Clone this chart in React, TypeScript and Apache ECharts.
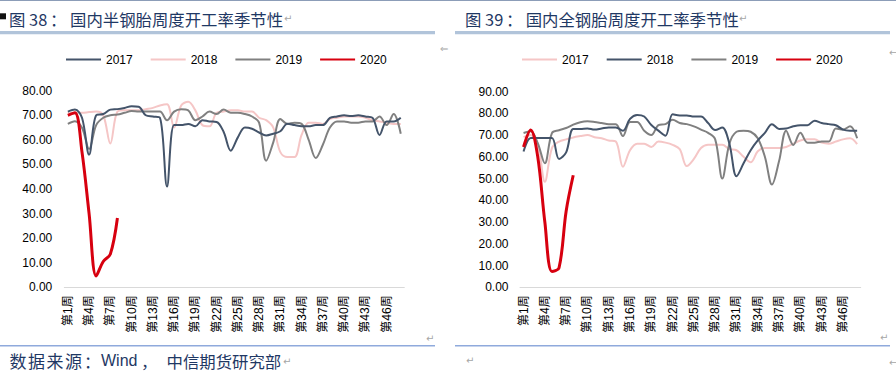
import React, { useEffect, useRef } from "react";
import * as echarts from "echarts";

const weeks: string[] = Array.from({ length: 48 }, (_, i) => `第${i + 1}周`);
const years = ["2017", "2018", "2019", "2020"];

// 国内半钢胎周度开工率
const semi2017 = [71.5, 72.3, 69, 54, 70, 70.5, 72.3, 72.5, 73, 73.7, 73.5, 70, 69.5, 69, 41, 66, 66, 66.5, 65.5, 68, 67.5, 67.3, 63.2, 55.6, 61, 65, 64.5, 63, 61.8, 62.5, 63.5, 66.6, 66, 65.5, 65.5, 66, 66, 68.9, 69.5, 70, 69.7, 70, 69.5, 69, 62, 67.5, 67.5, 69];
const semi2018 = [71, 71, 71, 71.3, 71.5, 70, 58.5, 71.5, 72, 72, 72, 72.5, 73, 74, 74.5, 65, 74, 75.5, 72, 66, 65.5, 71, 71.5, 72, 72, 71.5, 71.5, 69, 68, 65, 55, 53, 53, 62, 67, 67, 66.5, 68.5, 69, 69.5, 69.5, 69.5, 69, 68, 67.5, 67, 66.5, 66.5];
const semi2019 = [66.5, 67.6, 64.9, 56.3, 66, 69, 70, 70.3, 71, 71.7, 71.5, 71.5, 71.5, 71.5, 68, 71.5, 72.5, 72, 68, 69.5, 71.5, 70.5, 72.3, 71, 71, 70.5, 69.5, 67, 51.5, 59, 68.5, 66.5, 67, 66.5, 60, 52.6, 58, 65, 67.5, 67.5, 67, 67, 67.5, 67.5, 69.5, 66, 70.5, 62.5];
const semi2020 = [70, 71, 55, 30, 4.6, 10.5, 13.5, 28.2];

// 国内全钢胎周度开工率
const all2017 = [69, 70, 66, 48.5, 64, 67, 68, 68.9, 69.5, 70, 69, 68.5, 67.5, 67, 55.4, 63, 66, 66, 64.5, 67, 66.5, 65.5, 63.5, 55.7, 59, 64, 65.5, 65.5, 65.5, 63.5, 63, 60, 57.5, 62.5, 64, 64, 64, 64.5, 66, 67.5, 68, 68, 66.5, 66, 67, 68, 68.5, 65.8];
const all2018 = [62.4, 68.6, 68.6, 68.6, 68.6, 59, 62, 72.8, 72.8, 73, 72.5, 73, 73.5, 73.5, 72, 77.4, 79.2, 78.5, 74.6, 72, 69.7, 79.5, 79, 79, 78.5, 78.5, 75.5, 72.3, 73.5, 66, 51, 57, 63, 67.5, 71, 75, 72.8, 73, 74, 74.5, 74.5, 76.6, 75.5, 75, 74.5, 72.5, 72, 72];
const all2019 = [70.9, 71.7, 66.3, 57, 70.9, 72.2, 73.2, 74.8, 75.9, 76.3, 76, 75.5, 75, 75, 69.5, 76, 76, 72, 70, 74.5, 75, 77, 75.5, 75, 74, 72.5, 71, 68, 50, 66, 71.5, 72, 71.5, 68.5, 60, 47.2, 58, 72, 65.4, 71, 66.5, 66.5, 67, 67, 73, 72.5, 74, 68.5];
const all2020 = [64.5, 72.3, 60, 30, 7.3, 9, 35, 51.5];

const DARK = "#44546A";
const PINK = "#F5C6C6";
const GRAY = "#808080";
const RED = "#D7000F";
const NAVY = "#1F3864";
const NUMFONT = "'Liberation Sans', Arial, sans-serif";
const CJKFONT = "'Noto Sans CJK SC', 'Liberation Sans', sans-serif";
const LABELFONT = "'Liberation Sans', 'Noto Sans CJK SC', sans-serif";

function lineSeries(name: string, data: number[], color: string, width: number, idx: number, z: number) {
  return {
    type: "line",
    name,
    data,
    xAxisIndex: idx,
    yAxisIndex: idx,
    smooth: 0.35,
    symbol: "none",
    showSymbol: false,
    lineStyle: { color, width },
    itemStyle: { color },
    z,
  };
}

export default function App() {
  const ref = useRef<HTMLDivElement>(null);
  useEffect(() => {
    if (!ref.current) return;
    const chart = echarts.init(ref.current, undefined, { renderer: "svg" });
    const xAxisBase = (g: number) => ({
      type: "category",
      gridIndex: g,
      data: weeks,
      boundaryGap: true,
      axisLine: { lineStyle: { color: "#D9D9D9", width: 1 } },
      axisTick: { show: false },
      splitLine: { show: false },
      axisLabel: { interval: 2, rotate: 90, fontSize: 12, color: "#000", margin: 8, fontFamily: LABELFONT },
    });
    const yAxisBase = (g: number, max: number) => ({
      type: "value",
      gridIndex: g,
      min: 0,
      max,
      interval: 10,
      splitLine: { show: false },
      axisLine: { show: false },
      axisTick: { show: false },
      axisLabel: { formatter: (v: number) => v.toFixed(2), fontSize: 12, color: "#000", margin: g === 0 ? 12 : 11.5, fontFamily: NUMFONT },
    });
    const legendBase = (left: number, data: string[]) => ({
      left,
      top: 48.5,
      itemWidth: 35,
      itemHeight: 14,
      itemGap: 17,
      data,
      itemStyle: { opacity: 0 },
      formatter: (n: string) => n.trim(),
      textStyle: { fontSize: 12, color: "#000", fontFamily: NUMFONT },
    });
    const mark = (x: number, y: number, t = "↵") => ({
      type: "text",
      x,
      y,
      style: { text: t, fill: "#A6A6A6", font: `10px 'DejaVu Sans'`, verticalAlign: "middle" },
    });
    const txt = (x: number, y: number, t: string, size: number, family = CJKFONT) => ({
      type: "text",
      x,
      y,
      style: { text: t, fill: NAVY, font: `${size}px ${family}`, verticalAlign: "middle" },
    });
    const rightNames = years.map((y) => y + " ");
    chart.setOption({
      animation: false,
      backgroundColor: "#fff",
      grid: [
        { left: 64.3, top: 90.7, width: 340, height: 196.6 },
        { left: 520, top: 91.5, width: 340.7, height: 195.8 },
      ],
      xAxis: [xAxisBase(0), xAxisBase(1)],
      yAxis: [yAxisBase(0, 80), yAxisBase(1, 90)],
      legend: [legendBase(60, years), legendBase(516, rightNames)],
      series: [
        lineSeries("2018", semi2018, PINK, 2, 0, 2),
        lineSeries("2019", semi2019, GRAY, 2, 0, 3),
        lineSeries("2017", semi2017, DARK, 2, 0, 4),
        lineSeries("2020", semi2020, RED, 3, 0, 5),
        lineSeries(rightNames[0], all2017, PINK, 2, 1, 2),
        lineSeries(rightNames[2], all2019, GRAY, 2, 1, 3),
        lineSeries(rightNames[1], all2018, DARK, 2, 1, 4),
        lineSeries(rightNames[3], all2020, RED, 3, 1, 5),
      ],
      graphic: [
        { type: "rect", shape: { x: 0, y: 0, width: 896, height: 1 }, style: { fill: "#8C9DB8" } },
        { type: "rect", shape: { x: 0, y: 13.3, width: 6, height: 6 }, style: { fill: "#111" } },
        txt(9, 18.5, "图 38", 16.4),
        txt(50, 18.5, "：", 16.4),
        txt(70, 18.5, "国内半钢胎周度开工率季节性", 16.4),
        mark(284, 18.5),
        txt(465, 18.5, "图 39", 16.4),
        txt(506, 18.5, "：", 16.4),
        txt(525.7, 18.5, "国内全钢胎周度开工率季节性", 16.4),
        mark(739, 18.5),
        { type: "rect", shape: { x: 0, y: 31, width: 435, height: 3.3 }, style: { fill: "#B1C4DA" } },
        { type: "rect", shape: { x: 455, y: 31, width: 435, height: 3.3 }, style: { fill: "#B1C4DA" } },
        mark(440, 48, "⇐"),
        mark(889, 52, "←"),
        mark(426, 338),
        mark(880, 337),
        { type: "rect", shape: { x: 0, y: 345, width: 435, height: 1.6 }, style: { fill: "#8FAADC" } },
        { type: "rect", shape: { x: 455, y: 345, width: 435, height: 1.6 }, style: { fill: "#8FAADC" } },
        txt(9.5, 360.5, "数", 17),
        txt(28, 360.5, "据", 17),
        txt(46.5, 360.5, "来", 17),
        txt(65, 360.5, "源", 17),
        txt(84, 360.5, "：", 16.4),
        txt(101, 360.5, "Wind", 16, "'Liberation Sans', sans-serif"),
        txt(141, 360.5, "，", 16.4),
        txt(166.5, 360.5, "中信期货研究部", 16.4),
        mark(283, 361),
        mark(466, 360),
        mark(889, 362, "←"),
      ],
    });
    return () => chart.dispose();
  }, []);
  return (
    <div
      ref={ref}
      style={{ position: "absolute", left: 0, top: 0, width: 896, height: 378, background: "#fff" }}
    />
  );
}
